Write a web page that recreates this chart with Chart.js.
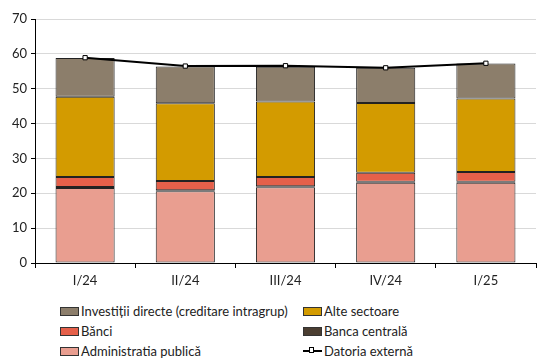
<!DOCTYPE html>
<html>
<head>
<meta charset="utf-8">
<script src="https://cdn.jsdelivr.net/npm/chart.js@4.4.1/dist/chart.umd.min.js"></script>
<style>
  body { margin: 0; background: #fff; font-family: Lato, "Open Sans", sans-serif; }
  #wrap { position: relative; width: 541px; height: 360px; }
  #c { position: absolute; left: 0; top: 0; }
  #legend { position: absolute; left: 60px; top: 303px; display: grid;
    grid-template-columns: 243px 200px; row-gap: 4px; font-size: 13px; color: #222; }
  .item { display: flex; align-items: center; height: 16px; white-space: nowrap; }
  .box { width: 17px; height: 7px; border: 1px solid #333; margin-right: 2px; }
  .ln { position: relative; width: 19px; height: 2px; background: #000; margin-right: 2px; }
  .ln i { position: absolute; left: 6px; top: -3px; width: 5px; height: 6px; background: #fff; border: 1px solid #000; box-sizing: border-box; }
</style>
</head>
<body>
<div id="wrap">
  <canvas id="c" width="541" height="300"></canvas>
  <div id="legend"></div>
</div>
<script>
const quarters = ['I/24', 'II/24', 'III/24', 'IV/24', 'I/25'];
const adminPublica = [21.5, 20.6, 21.7, 23.0, 23.0];
const bancaCentrala = [0.3, 0.3, 0.3, 0.3, 0.3];
const banci = [2.9, 2.6, 2.7, 2.6, 2.8];
const alteSectoare = [23.0, 22.3, 21.6, 20.0, 21.1];
const investitii = [11.1, 10.6, 10.0, 10.1, 10.0];
const datoriaExterna = [58.9, 56.5, 56.6, 56.0, 57.3];
const yTicks = [0, 10, 20, 30, 40, 50, 60, 70];

const colors = {
  admin: '#e99e90',
  central: '#4b3e31',
  banci: '#e5604a',
  alte: '#d39b00',
  invest: '#8c7e6b'
};

function bar(label, data, color) {
  return { type: 'bar', label, data, backgroundColor: color, borderColor: '#222',
           borderWidth: 1, borderSkipped: false, stack: 'd', order: 2,
           barPercentage: 0.59, categoryPercentage: 1 };
}

const datasets = [
  bar('Administratia publică', adminPublica, colors.admin),
  bar('Banca centrală', bancaCentrala, colors.central),
  bar('Bănci', banci, colors.banci),
  bar('Alte sectoare', alteSectoare, colors.alte),
  bar('Investiții directe (creditare intragrup)', investitii, colors.invest),
  { type: 'line', label: 'Datoria externă', data: datoriaExterna, stack: 'l', order: 0,
    borderColor: '#000', borderWidth: 2, pointStyle: 'rect', pointRadius: 3,
    pointBackgroundColor: '#fff', pointBorderColor: '#000', pointBorderWidth: 1, tension: 0 }
];

new Chart(document.getElementById('c'), {
  data: { labels: quarters, datasets },
  options: {
    responsive: false,
    animation: false,
    layout: { padding: { top: 19, right: 0, left: 0, bottom: 0 } },
    plugins: { legend: { display: false }, tooltip: { enabled: false } },
    scales: {
      x: {
        stacked: true,
        grid: { drawOnChartArea: false, drawTicks: true, tickLength: 5, tickColor: '#000', offset: true },
        border: { color: '#000', width: 1 },
        ticks: { color: '#222', font: { family: 'Lato', size: 13 }, padding: 5 },
        afterFit: s => { s.height = 37; }
      },
      y: {
        stacked: true,
        min: 0, max: 70,
        afterBuildTicks: s => { s.ticks = yTicks.map(v => ({ value: v })); },
        grid: { color: '#d9d9d9', tickColor: '#000', tickLength: 4 },
        border: { color: '#000', width: 1 },
        ticks: { color: '#222', font: { family: 'Lato', size: 13 }, padding: 4 },
        afterFit: s => { s.width = 35; }
      }
    }
  }
});

const legendItems = [
  { label: 'Investiții directe (creditare intragrup)', color: colors.invest },
  { label: 'Alte sectoare', color: colors.alte },
  { label: 'Bănci', color: colors.banci },
  { label: 'Banca centrală', color: colors.central },
  { label: 'Administratia publică', color: colors.admin },
  { label: 'Datoria externă', line: true }
];
const lg = document.getElementById('legend');
legendItems.forEach(it => {
  const d = document.createElement('div');
  d.className = 'item';
  d.innerHTML = (it.line ? '<span class="ln"><i></i></span>'
    : '<span class="box" style="background:' + it.color + '"></span>') + '<span>' + it.label + '</span>';
  lg.appendChild(d);
});
</script>
</body>
</html>
